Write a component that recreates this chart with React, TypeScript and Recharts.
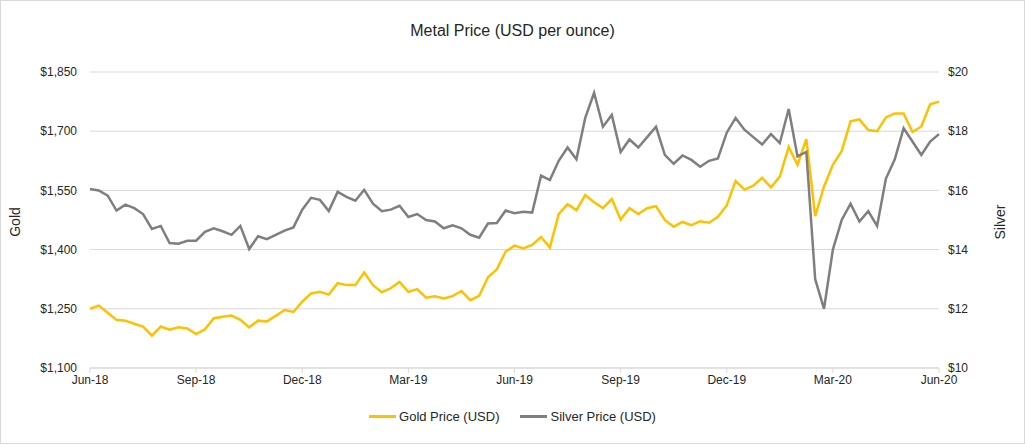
import React from 'react';
import { LineChart, Line, XAxis, YAxis, CartesianGrid } from 'recharts';

// x positions are months since Jun-18, one point per quarter month
const monthStep = 0.25;
const tickMonths = [0, 3, 6, 9, 12, 15, 18, 21, 24];
const tickLabels = ['Jun-18', 'Sep-18', 'Dec-18', 'Mar-19', 'Jun-19', 'Sep-19', 'Dec-19', 'Mar-20', 'Jun-20'];
const goldTicks = [1100, 1250, 1400, 1550, 1700, 1850];
const silverTicks = [10, 12, 14, 16, 18, 20];

const goldPrices = [
  1250, 1258, 1240, 1222, 1220, 1212, 1205, 1182, 1205, 1197, 1203, 1200,
  1186, 1198, 1226, 1230, 1233, 1222, 1203, 1220, 1218, 1232, 1247, 1242,
  1268, 1289, 1293, 1286, 1315, 1310, 1310, 1342, 1310, 1292, 1302, 1318,
  1293, 1300, 1278, 1282, 1276, 1282, 1295, 1272, 1283, 1330, 1350, 1395,
  1410, 1403, 1412, 1432, 1405, 1490, 1515, 1500, 1538, 1520, 1505, 1528,
  1476, 1505, 1490, 1505, 1510, 1475, 1458, 1470, 1462, 1472, 1468, 1483,
  1512, 1574, 1552, 1562, 1582, 1558, 1585, 1660, 1615, 1680, 1485, 1560,
  1615, 1650, 1725, 1730, 1703, 1700, 1735, 1745, 1745, 1698, 1712, 1768,
  1775,
];

const silverPrices = [
  16.05, 16.0, 15.82, 15.32, 15.52, 15.4, 15.2, 14.7, 14.8, 14.22, 14.2, 14.3,
  14.3, 14.6, 14.72, 14.62, 14.5, 14.8, 14.02, 14.45, 14.35, 14.5, 14.64, 14.75,
  15.35, 15.75, 15.68, 15.3, 15.95, 15.78, 15.65, 16.02, 15.55, 15.3, 15.35, 15.48,
  15.1, 15.2, 15.0, 14.95, 14.72, 14.82, 14.72, 14.5, 14.4, 14.88, 14.9, 15.32,
  15.23, 15.28, 15.25, 16.5, 16.35, 17.0, 17.45, 17.05, 18.45, 19.3, 18.15, 18.55,
  17.3, 17.72, 17.45, 17.8, 18.15, 17.2, 16.9, 17.18, 17.03, 16.8, 17.0, 17.08,
  17.95, 18.45, 18.05, 17.8, 17.55, 17.9, 17.6, 18.75, 17.15, 17.3, 13.0, 12.0,
  14.0, 15.0, 15.55, 14.95, 15.3, 14.8, 16.4, 17.05, 18.1, 17.65, 17.2, 17.65,
  17.9,
];

const data = goldPrices.map((g, i) => ({ m: i * monthStep, gold: g, silver: silverPrices[i] }));

const FONT = '"Liberation Sans", Arial, sans-serif';
const GOLD = '#FFC000';
const SILVER = '#7f7f7f';
const GRID = '#d9d9d9';
const TEXT = '#262626';

const fmtGold = (v: number) => '$' + v.toLocaleString('en-US');
const fmtSilver = (v: number) => '$' + v;
const fmtMonth = (m: number) => tickLabels[tickMonths.indexOf(m)] ?? '';

const LegendItem = ({ color, label }: { color: string; label: string }) => (
  <div style={{ display: 'flex', alignItems: 'center' }}>
    <span style={{ display: 'inline-block', width: 27, height: 3, background: color, marginRight: 3 }} />
    <span>{label}</span>
  </div>
);

export default function App() {
  return (
    <div
      style={{
        position: 'absolute', left: 0, top: 0, width: 1025, height: 444,
        boxSizing: 'border-box', border: `1px solid ${GRID}`, background: '#fff',
        fontFamily: FONT, color: TEXT,
      }}
    >
      <div style={{ position: 'absolute', left: 0, width: 1023, top: 21, textAlign: 'center', fontSize: 16 }}>
        Metal Price (USD per ounce)
      </div>
      <div style={{ position: 'absolute', left: 14, top: 221, fontSize: 14, whiteSpace: 'nowrap', transform: 'translate(-50%, -50%) rotate(-90deg)' }}>
        Gold
      </div>
      <div style={{ position: 'absolute', left: 999, top: 221, fontSize: 14, whiteSpace: 'nowrap', transform: 'translate(-50%, -50%) rotate(-90deg)' }}>
        Silver
      </div>

      <LineChart width={1023} height={442} data={data} margin={{ top: 71, right: 25, bottom: 45, left: 29 }}>
        <CartesianGrid yAxisId="gold" vertical={false} stroke={GRID} />
        <XAxis
          dataKey="m"
          type="number"
          domain={[0, 24]}
          ticks={tickMonths}
          tickFormatter={fmtMonth}
          height={30}
          stroke={GRID}
          tickSize={5}
          tick={{ fill: TEXT, fontSize: 12, fontFamily: FONT }}
        />
        <YAxis
          yAxisId="gold"
          orientation="left"
          domain={[1100, 1850]}
          ticks={goldTicks}
          tickFormatter={fmtGold}
          width={60}
          axisLine={false}
          tickLine={false}
          tickMargin={7}
          tick={{ fill: TEXT, fontSize: 12, fontFamily: FONT }}
        />
        <YAxis
          yAxisId="silver"
          orientation="right"
          domain={[10, 20]}
          ticks={silverTicks}
          tickFormatter={fmtSilver}
          width={60}
          axisLine={false}
          tickLine={false}
          tickMargin={3}
          tick={{ fill: TEXT, fontSize: 12, fontFamily: FONT, textAnchor: 'start' }}
        />
        <Line yAxisId="gold" type="linear" dataKey="gold" stroke={GOLD} strokeWidth={2.5} dot={false} isAnimationActive={false} />
        <Line yAxisId="silver" type="linear" dataKey="silver" stroke={SILVER} strokeWidth={2.5} dot={false} isAnimationActive={false} />
      </LineChart>

      <div style={{ position: 'absolute', left: 0, width: 1023, top: 408, display: 'flex', justifyContent: 'center', gap: 21, fontSize: 13 }}>
        <LegendItem color={GOLD} label="Gold Price (USD)" />
        <LegendItem color={SILVER} label="Silver Price (USD)" />
      </div>
    </div>
  );
}
